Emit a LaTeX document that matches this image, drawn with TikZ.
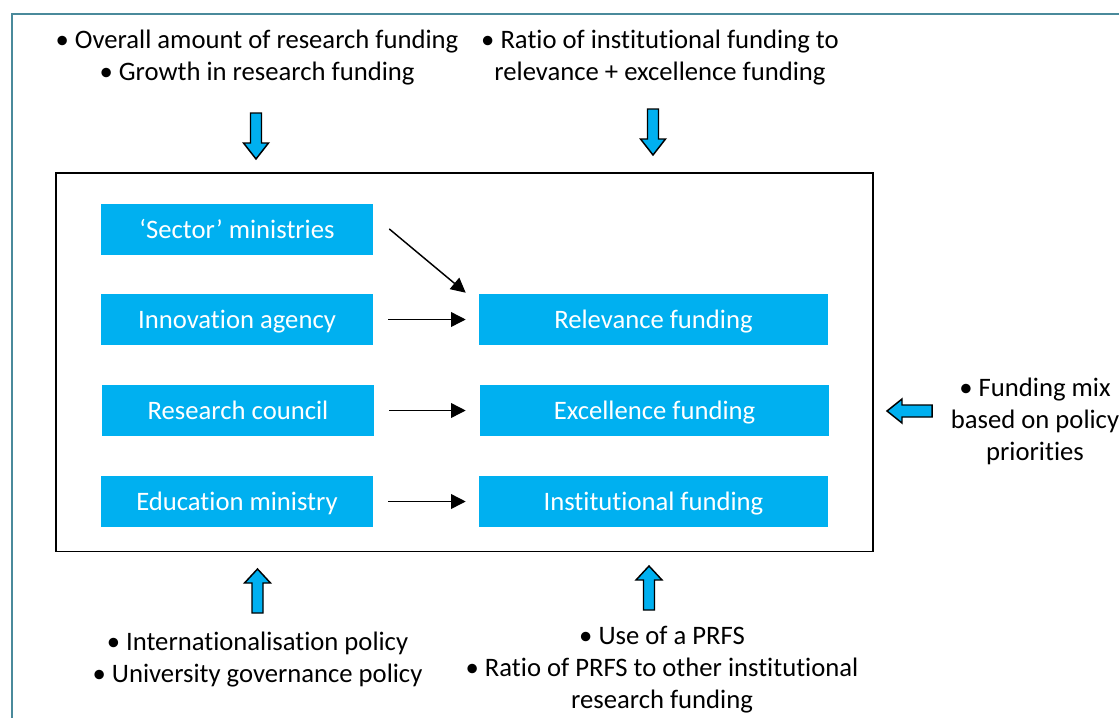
\documentclass[tikz,border=0pt]{standalone}
\usepackage{fontspec}
\setmainfont{Carlito}[RawFeature=-liga]
\usetikzlibrary{arrows.meta}
\definecolor{frameteal}{HTML}{4A8A9B}
\definecolor{boxcyan}{HTML}{00B0F0}
\tikzset{
  every node/.style={font=\fontsize{20pt}{24pt}\selectfont},
  bluebox/.style={fill=boxcyan, text=white, minimum height=38.25pt, inner sep=0pt, text height=15pt, text depth=0.8pt},
  leftbox/.style={bluebox, minimum width=204pt},
  rightbox/.style={bluebox, minimum width=261.75pt},
  conn/.style={line width=1.1pt, -{Triangle[length=11pt,width=11pt]}},
  blockarr/.style={fill=boxcyan, draw=black, line width=1.1pt, line join=miter},
  label/.style={align=center, inner sep=0pt},
  downarr/.pic={\draw[blockarr] (-5.5,0) -- (5.5,0) -- (5.5,30) -- (12.5,30) -- (0,46) -- (-12.5,30) -- (-5.5,30) -- cycle;},
  uparr/.pic={\draw[blockarr] (-5.5,0) -- (5.5,0) -- (5.5,-30) -- (13,-30) -- (0,-44) -- (-13,-30) -- (-5.5,-30) -- cycle;},
}
\begin{document}
\begin{tikzpicture}[x=0.75pt,y=-0.75pt]
\useasboundingbox (0,0) rectangle (1119,717);
\clip (0,0) rectangle (1119,717);
% outer frame
\draw[frameteal, line width=1.8pt] (12,14) rectangle (1140,740);
% inner frame
\draw[black, line width=1.4pt] (56,173) rectangle (873,551.5);

% boxes
\node[leftbox] (sec) at (237,229.5) {‘Sector’ ministries};
\node[leftbox] (ia)  at (237,319.5) {Innovation agency};
\node[leftbox] (rc)  at (238,410.5) {Research council};
\node[leftbox] (em)  at (237,501.5) {Education ministry};
\node[rightbox] (rel)  at (653.5,319.5) {Relevance funding};
\node[rightbox] (exc)  at (654.5,410.5) {Excellence funding};
\node[rightbox] (inst) at (653.5,501.5) {Institutional funding};

% connectors
\draw[conn] ([xshift=12pt,yshift=0.4pt]sec.east) -- ([xshift=-9.75pt,yshift=0.75pt]rel.north west);
\draw[conn, shorten <=11.25pt, shorten >=9.75pt] (ia.east) -- (rel.west);
\draw[conn, shorten <=11.25pt, shorten >=10.5pt] (rc.east) -- (exc.west);
\draw[conn, shorten <=11.25pt, shorten >=9.75pt] (em.east) -- (inst.west);

% labels
\node[label] (tl) at (257,58) {• Overall amount of research funding\\• Growth in research funding};
\node[label] (tr) at (660,58) {• Ratio of institutional funding to\\relevance + excellence funding};
\node[label] (rt) at (1035,421) {• Funding mix\\based on policy\\priorities};
\node[label] (bl) at (257.5,660) {• Internationalisation policy\\• University governance policy};
\node[label] (br) at (662,670) {• Use of a PRFS\\• Ratio of PRFS to other institutional\\research funding};

% block arrows
\pic at (256,113) {downarr};
\pic at (653,109) {downarr};
\pic at (257.5,613) {uparr};
\pic at (649,610) {uparr};
\draw[blockarr] (932,405) -- (932,417) -- (902,417) -- (902,423) -- (887,411) -- (902,399) -- (902,405) -- cycle;
\end{tikzpicture}
\end{document}
